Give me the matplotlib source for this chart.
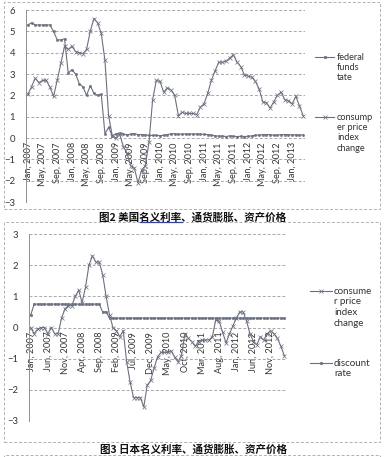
import matplotlib
matplotlib.use("Agg")
import matplotlib.pyplot as plt
from matplotlib.lines import Line2D
from matplotlib.patches import Rectangle

plt.rcParams['font.family'] = ['Lato', 'Noto Sans CJK SC', 'DejaVu Sans']

# ---------------- data: US (Jan 2007 - Apr 2013, monthly) ----------------
us_months = ["Jan", "Feb", "Mar", "Apr", "May", "Jun", "Jul", "Aug", "Sep", "Oct", "Nov", "Dec"]
us_labels = [f"{us_months[i % 12]}, {2007 + i // 12}" for i in range(76)]

us_fed = [5.3, 5.4, 5.3, 5.3, 5.3, 5.3, 5.3, 5.0, 4.6, 4.6, 4.65,
          3.05, 3.2, 3.0, 2.55, 2.4, 2.0, 2.45, 2.1, 2.0, 2.05,
          0.2, 0.5, 0.1,
          0.2, 0.22, 0.18, 0.15, 0.18, 0.21, 0.16, 0.16, 0.15, 0.12, 0.12, 0.12,
          0.11, 0.13, 0.16, 0.2, 0.2, 0.18, 0.18, 0.19, 0.19, 0.19, 0.19, 0.18,
          0.17, 0.16, 0.14, 0.1, 0.09, 0.09, 0.07, 0.1, 0.08, 0.07, 0.08, 0.07,
          0.08, 0.1, 0.13, 0.14, 0.16, 0.16, 0.16, 0.13, 0.14, 0.16, 0.16, 0.16,
          0.14, 0.15, 0.14, 0.15]

us_cpi = [2.05, 2.4, 2.8, 2.6, 2.7, 2.7, 2.4, 1.95, 2.7, 3.5, 4.3,
          4.15, 4.3, 4.05, 4.0, 3.95, 4.15, 5.0, 5.6, 5.4, 4.9,
          3.65, 1.05, 0.1,
          0.0, 0.2, -0.4, -0.7, -1.3, -1.4, -2.1, -1.5, -1.3, -0.2, 1.8, 2.7,
          2.65, 2.15, 2.35, 2.25, 2.0, 1.05, 1.2, 1.15, 1.15, 1.15, 1.1, 1.45,
          1.6, 2.1, 2.7, 3.15, 3.55, 3.55, 3.6, 3.75, 3.9, 3.55, 3.35, 2.95,
          2.9, 2.85, 2.65, 2.3, 1.7, 1.65, 1.4, 1.7, 2.0, 2.15, 1.8, 1.75,
          1.6, 1.95, 1.5, 1.05]

# ---------------- data: Japan (Jan 2007 - Mar 2013, monthly) ----------------
jp_labels = [f"{us_months[i % 12]}, {2007 + i // 12}" for i in range(75)]

jp_cpi = [0.0, -0.2, -0.05, 0.0, 0.0, -0.2, 0.0, -0.2, -0.2, 0.3, 0.6, 0.7,
          0.7, 1.0, 1.2, 0.8, 1.3, 2.0, 2.3, 2.1, 2.1, 1.7, 1.0, 0.4,
          0.0, -0.1, -0.3, -0.1, -1.1, -1.75, -2.25, -2.25, -2.25, -2.55, -1.85, -1.7,
          -1.3, -0.95, -0.8, -0.8, -0.8, -0.75, -0.95, -1.1, -0.9, -0.2, -0.35, -0.45,
          -0.6, -0.45, -0.4, -0.4, -0.4, -0.3, 0.25, 0.2, -0.15, -0.5, -0.2, 0.05,
          0.3, 0.5, 0.5, 0.2, -0.2, -0.45, -0.55, -0.3, -0.4, -0.2, -0.1, -0.2,
          -0.35, -0.6, -0.9]

jp_disc = [0.4, 0.75, 0.75, 0.75, 0.75, 0.75, 0.75, 0.75, 0.75, 0.75, 0.75, 0.75,
           0.75, 0.75, 0.75, 0.75, 0.75, 0.75, 0.75, 0.75, 0.75, 0.5, 0.5, 0.3,
           0.3, 0.3, 0.3, 0.3, 0.3, 0.3, 0.3, 0.3, 0.3, 0.3, 0.3, 0.3,
           0.3, 0.3, 0.3, 0.3, 0.3, 0.3, 0.3, 0.3, 0.3, 0.3, 0.3, 0.3,
           0.3, 0.3, 0.3, 0.3, 0.3, 0.3, 0.3, 0.3, 0.3, 0.3, 0.3, 0.3,
           0.3, 0.3, 0.3, 0.3, 0.3, 0.3, 0.3, 0.3, 0.3, 0.3, 0.3, 0.3,
           0.3, 0.3, 0.3]

title1 = "图2 美国名义利率、通货膨胀、资产价格"
title2 = "图3 日本名义利率、通货膨胀、资产价格"
legend1 = ["federal\nfunds\ntate", "consump\ner price\nindex\nchange"]
legend2 = ["consume\nr price\nindex\nchange", "discount\nrate"]

# ---------------- style ----------------
W, H = 384, 457
LC = "#6c7080"
GC = "#a8a8a8"
TC = "#333333"

fig = plt.figure(figsize=(W / 100, H / 100), dpi=100)
fig.patch.set_facecolor("white")


def fx(px):
    return px / W


def fy(py):
    return 1 - py / H


def style_axes(ax, ylim, step_labels, labels, tick_every):
    n = len(labels)
    ax.set_xlim(-0.5, n - 0.5)
    ax.set_ylim(*ylim)
    ax.set_yticks(range(ylim[0], ylim[1] + 1))
    ax.grid(axis="y", color=GC, linestyle=(0, (3, 2)), linewidth=0.7)
    ax.set_axisbelow(True)
    for s in ["top", "right"]:
        ax.spines[s].set_visible(False)
    ax.spines["bottom"].set_position(("data", 0))
    ax.spines["bottom"].set_visible(False)
    ax.spines["left"].set_color("#909090")
    ax.spines["left"].set_linewidth(0.7)
    ticks = list(range(0, n, tick_every))
    ax.set_xticks(ticks)
    ax.set_xticklabels([labels[i] for i in ticks], rotation=90, fontsize=6.6, color=TC)
    ax.tick_params(axis="x", length=0, pad=3)
    ax.tick_params(axis="y", length=0, pad=8, labelsize=6.8, labelcolor=TC)
    ax.set_facecolor("none")


# ---- chart 1 (US) ----
ax1 = fig.add_axes([fx(26), fy(202), fx(305) - fx(26), fy(10) - fy(202)])
x1 = list(range(len(us_labels)))
ax1.plot(x1, us_fed, color=LC, lw=0.8, marker="o", ms=1.6, mew=0.4)
ax1.plot(x1, us_cpi, color=LC, lw=0.8, marker="x", ms=2.2, mew=0.5)
style_axes(ax1, (-3, 6), None, us_labels, 4)

# ---- chart 2 (Japan) ----
ax2 = fig.add_axes([fx(29), fy(421), fx(286) - fx(29), fy(234) - fy(421)])
x2 = list(range(len(jp_labels)))
ax2.plot(x2, jp_disc, color=LC, lw=0.8, marker="o", ms=1.8, mew=0.4)
ax2.plot(x2, jp_cpi, color=LC, lw=0.8, marker="x", ms=2.2, mew=0.5)
style_axes(ax2, (-3, 3), None, jp_labels, 5)


# ---- manual legends ----
def legend_entry(x0, x1_, xt, y, marker, ms, text, fs, ls):
    fig.add_artist(Line2D([fx(x0), fx(x1_)], [fy(y), fy(y)], color=LC, lw=0.8,
                          transform=fig.transFigure))
    fig.add_artist(Line2D([fx((x0 + x1_) / 2)], [fy(y)], color=LC, marker=marker,
                          ms=ms, mew=0.5, transform=fig.transFigure))
    fig.text(fx(xt), fy(y - fs * 0.62), text, ha="left", va="top", fontsize=fs,
             color=TC, linespacing=ls)


legend_entry(315, 334, 337, 57, "o", 1.8, legend1[0], 6.6, 1.18)
legend_entry(315, 334, 337, 117, "x", 2.4, legend1[1], 6.6, 1.18)
legend_entry(310, 332, 334, 291, "x", 2.4, legend2[0], 7.0, 1.25)
legend_entry(310, 332, 334, 363, "o", 1.8, legend2[1], 7.0, 1.25)

# ---- panel borders ----
for (x0, y0, x1b, y1b) in [(4, 2, 380, 209), (4, 222, 380, 442), (4, 455, 380, 470)]:
    fig.add_artist(Rectangle((fx(x0), fy(y1b)), fx(x1b) - fx(x0), fy(y0) - fy(y1b),
                             fill=False, edgecolor="#b0b0b0", lw=0.7,
                             linestyle=(0, (3, 2)), transform=fig.transFigure))

# ---- titles ----
cjk = ["Noto Sans CJK SC", "DejaVu Sans"]
tprops = dict(fontsize=7.6, fontweight="bold", family=cjk, color="#111111")
t1 = fig.text(fx(193), fy(217), title1, ha="center", va="center", **tprops)
t2 = fig.text(fx(193), fy(449), title2, ha="center", va="center", **tprops)

# blue underline under "名义利率" of title 1
fig.canvas.draw()
r = fig.canvas.get_renderer()
bb = t1.get_window_extent(r)
tmp_a = fig.text(0, 0, "图2 美国", **tprops)
tmp_b = fig.text(0, 0, "图2 美国名义利率", **tprops)
wa = tmp_a.get_window_extent(r).width
wb = tmp_b.get_window_extent(r).width
tmp_a.remove()
tmp_b.remove()
uy = (bb.y0 + 0.5) / H
fig.add_artist(Line2D([(bb.x0 + wa) / W, (bb.x0 + wb) / W], [uy, uy], color="#2a3fd8",
                      lw=0.9, transform=fig.transFigure))

fig.savefig("out.png", dpi=100)
